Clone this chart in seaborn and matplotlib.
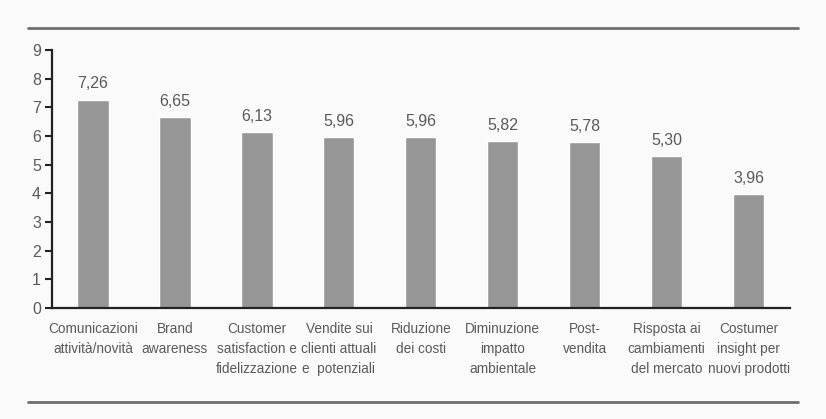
import matplotlib
matplotlib.use("Agg")
import matplotlib.pyplot as plt
from matplotlib import font_manager
from matplotlib.lines import Line2D
import seaborn as sns
import pandas as pd

categories = [
    "Comunicazioni\nattività/novità",
    "Brand\nawareness",
    "Customer\nsatisfaction e\nfidelizzazione",
    "Vendite sui\nclienti attuali\ne  potenziali",
    "Riduzione\ndei costi",
    "Diminuzione\nimpatto\nambientale",
    "Post-\nvendita",
    "Risposta ai\ncambiamenti\ndel mercato",
    "Costumer\ninsight per\nnuovi prodotti",
]
values = [7.26, 6.65, 6.13, 5.96, 5.96, 5.82, 5.78, 5.30, 3.96]
y_ticks = list(range(0, 10))

sns.set_theme(style="white")
available = {f.name for f in font_manager.fontManager.ttflist}
family = "Liberation Sans Narrow" if "Liberation Sans Narrow" in available else "Liberation Sans"
plt.rcParams["font.family"] = [family, "DejaVu Sans"]

text_color = "#5a5a5a"
df = pd.DataFrame({"categoria": categories, "valore": values})

fig = plt.figure(figsize=(8.26, 4.19), dpi=100, facecolor="#fafafa")
ax = fig.add_axes([0.063, 0.265, 0.893, 0.616])
ax.set_facecolor("#fafafa")

sns.barplot(data=df, x="categoria", y="valore", color="#969696",
            width=0.38, saturation=1, ax=ax)

for i, v in enumerate(values):
    ax.annotate(f"{v:.2f}".replace(".", ","), (i, v), xytext=(0, 6),
                textcoords="offset points", ha="center", va="bottom",
                fontsize=11.5, color=text_color)

ax.set_xlim(-0.5, len(categories) - 0.5)
ax.set_ylim(0, 9)
ax.set_yticks(y_ticks)
ax.set_yticklabels([str(t) for t in y_ticks], fontsize=11.5, color=text_color)
ax.set_xticks(range(len(categories)))
ax.set_xticklabels(categories, fontsize=9.8, color=text_color, linespacing=1.55)
ax.set_xticks([i - 0.5 for i in range(len(categories) + 1)], minor=True)
ax.tick_params(axis="x", which="major", length=0, pad=10)
ax.tick_params(axis="x", which="minor", length=5, width=1.5, color="#222222", direction="out")
ax.tick_params(axis="y", length=5, width=1.5, color="#222222", direction="out", pad=3, left=True)
ax.set_xlabel("")
ax.set_ylabel("")

for side in ("top", "right"):
    ax.spines[side].set_visible(False)
for side in ("left", "bottom"):
    ax.spines[side].set_color("#222222")
    ax.spines[side].set_linewidth(1.6)

# horizontal rules framing the chart
for yy in (0.933, 0.041):
    fig.add_artist(Line2D([0.034, 0.966], [yy, yy], transform=fig.transFigure,
                          color="#6e6e6e", linewidth=2))

fig.savefig("out.png", dpi=100, facecolor=fig.get_facecolor())
